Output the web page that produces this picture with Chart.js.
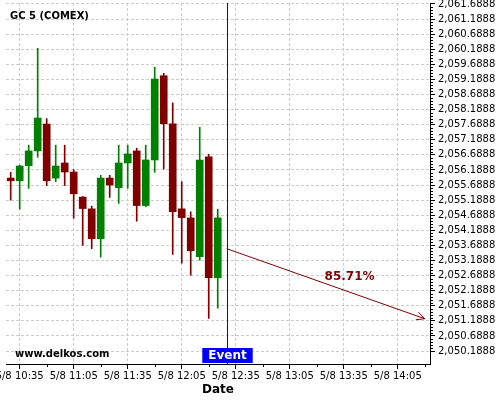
<!DOCTYPE html>
<html>
<head>
<meta charset="utf-8">
<script src="https://cdn.jsdelivr.net/npm/chart.js@4"></script>
<style>
  body { margin: 0; background: #fff; }
</style>
</head>
<body>
<canvas id="goldChart" width="500" height="400"></canvas>
<script>
// CANDLES (5 minute bars, 5/8)
const times = ['10:30', '10:35', '10:40', '10:45', '10:50', '10:55', '11:00', '11:05',
  '11:10', '11:15', '11:20', '11:25', '11:30', '11:35', '11:40', '11:45',
  '11:50', '11:55', '12:00', '12:05', '12:10', '12:15', '12:20', '12:25'];
const opens = [2055.92, 2055.83, 2056.33, 2056.82, 2057.71, 2055.92, 2056.42, 2056.12,
  2055.29, 2054.90, 2053.91, 2055.92, 2055.60, 2056.42, 2056.82, 2055.01,
  2056.52, 2059.31, 2057.72, 2054.90, 2054.60, 2053.32, 2056.62, 2052.62];
const highs = [2056.11, 2056.35, 2057.01, 2060.22, 2057.89, 2057.01, 2057.01, 2056.20,
  2055.31, 2054.99, 2056.01, 2056.01, 2057.01, 2057.01, 2056.91, 2057.01,
  2059.59, 2059.39, 2058.41, 2055.80, 2054.80, 2057.60, 2056.71, 2054.89];
const lows = [2055.19, 2054.89, 2055.58, 2056.61, 2055.67, 2055.80, 2055.67, 2054.59,
  2053.69, 2053.58, 2053.30, 2055.28, 2055.08, 2055.58, 2054.49, 2054.97,
  2056.11, 2056.22, 2053.39, 2053.10, 2052.70, 2053.20, 2051.27, 2051.61];
const closes = [2055.83, 2056.32, 2056.82, 2057.91, 2055.83, 2056.32, 2056.12, 2055.40,
  2054.91, 2053.91, 2055.92, 2055.69, 2056.42, 2056.72, 2055.01, 2056.52,
  2059.20, 2057.72, 2054.81, 2054.61, 2053.51, 2056.52, 2052.62, 2054.60];

// FORECAST ARROW
const forecastTimes = ['12:30', '14:20'];
const forecastValues = [2053.58, 2051.26];
const eventTime = '12:30';
const probability = '85.71%';

// AXES
const xTickLabels = ['10:35', '11:05', '11:35', '12:05', '12:35', '13:05', '13:35', '14:05'];
const yTicks = [2050.1888, 2050.6888, 2051.1888, 2051.6888, 2052.1888, 2052.6888,
  2053.1888, 2053.6888, 2054.1888, 2054.6888, 2055.1888, 2055.6888, 2056.1888,
  2056.6888, 2057.1888, 2057.6888, 2058.1888, 2058.6888, 2059.1888, 2059.6888,
  2060.1888, 2060.6888, 2061.1888, 2061.6888];

const GREEN = '#008000';
const RED = '#800000';
const FONT = 'DejaVu Sans';

const toMin = t => { const [h, m] = t.split(':').map(Number); return h * 60 + m; };
const fmt = v => { const h = Math.floor(v / 60), m = Math.round(v % 60); return h + ':' + String(m).padStart(2, '0'); };

const candleColors = opens.map((o, i) => closes[i] >= o ? GREEN : RED);

const decorations = {
  id: 'decorations',
  afterDraw(chart) {
    const { ctx, chartArea: a, scales: { x, y } } = chart;
    ctx.save();

    // minor ticks
    ctx.strokeStyle = '#000';
    ctx.lineWidth = 1;
    ctx.beginPath();
    xTickLabels.forEach(t => {
      const px = Math.round(x.getPixelForValue(toMin(t) + 15)) + 0.5;
      if (px < a.right) { ctx.moveTo(px, a.bottom); ctx.lineTo(px, a.bottom + 3); }
    });
    yTicks.forEach(v => {
      for (let k = 1; k < 5; k++) {
        const py = Math.round(y.getPixelForValue(v + k * 0.1)) + 0.5;
        if (py > a.top) { ctx.moveTo(a.right, py); ctx.lineTo(a.right + 3, py); }
      }
    });
    ctx.stroke();

    // event line
    const ex = Math.round(x.getPixelForValue(toMin(eventTime))) + 0.5;
    ctx.strokeStyle = '#0000ff';
    ctx.beginPath();
    ctx.moveTo(ex, a.top);
    ctx.lineTo(ex, a.bottom);
    ctx.stroke();

    // event label
    ctx.font = 'bold 12px ' + FONT;
    const w = ctx.measureText('Event').width + 12;
    ctx.fillStyle = '#0000ff';
    ctx.fillRect(ex - w / 2, a.bottom - 16, w, 15);
    ctx.fillStyle = '#fff';
    ctx.textAlign = 'center';
    ctx.textBaseline = 'middle';
    ctx.fillText('Event', ex, a.bottom - 8);

    // arrow head
    const x1 = x.getPixelForValue(toMin(forecastTimes[0])), y1 = y.getPixelForValue(forecastValues[0]);
    const x2 = x.getPixelForValue(toMin(forecastTimes[1])), y2 = y.getPixelForValue(forecastValues[1]);
    const ang = Math.atan2(y2 - y1, x2 - x1);
    ctx.strokeStyle = RED;
    ctx.beginPath();
    ctx.moveTo(x2 - 9 * Math.cos(ang - 0.45), y2 - 9 * Math.sin(ang - 0.45));
    ctx.lineTo(x2, y2);
    ctx.lineTo(x2 - 9 * Math.cos(ang + 0.45), y2 - 9 * Math.sin(ang + 0.45));
    ctx.stroke();

    // probability
    ctx.fillStyle = RED;
    ctx.fillText(probability, x1 + 0.62 * (x2 - x1), y1 + 0.62 * (y2 - y1) - 15);

    // title + watermark
    ctx.fillStyle = '#000';
    ctx.textAlign = 'left';
    ctx.font = 'bold 10px ' + FONT;
    ctx.fillText('GC 5 (COMEX)', a.left + 4, 16);
    ctx.fillText('www.delkos.com', a.left + 9, a.bottom - 10);
    ctx.restore();
  }
};

const gridOpts = { color: '#cccccc', tickColor: '#000', tickLength: 5, offset: false };
const tickFont = { family: FONT, size: 10 };

new Chart(document.getElementById('goldChart').getContext('2d'), {
  type: 'bar',
  data: {
    datasets: [{
      type: 'line',
      data: forecastTimes.map((t, i) => ({ x: toMin(t), y: forecastValues[i] })),
      borderColor: RED,
      borderWidth: 1,
      pointRadius: 0,
      order: 0
    }, {
      label: 'Body',
      data: times.map((t, i) => ({ x: toMin(t), y: [opens[i], closes[i]] })),
      backgroundColor: candleColors,
      barThickness: 7,
      order: 1
    }, {
      label: 'Wick',
      data: times.map((t, i) => ({ x: toMin(t), y: [lows[i], highs[i]] })),
      backgroundColor: candleColors,
      barThickness: 1,
      order: 2
    }]
  },
  options: {
    responsive: false,
    animation: false,
    grouped: false,
    layout: { padding: { left: 6, top: 3, right: 0, bottom: 0 } },
    plugins: { legend: { display: false }, tooltip: { enabled: false } },
    scales: {
      x: {
        type: 'linear',
        min: 627.4,
        max: 862.9,
        offset: false,
        afterBuildTicks: s => { s.ticks = xTickLabels.map(t => ({ value: toMin(t) })); },
        ticks: { callback: v => '5/8 ' + fmt(v), font: tickFont, color: '#000', padding: 1, maxRotation: 0, autoSkip: false },
        grid: gridOpts,
        border: { color: '#000', dash: [3, 2] },
        title: { display: true, text: 'Date', color: '#000', font: { family: FONT, size: 12, weight: 'bold' }, padding: { top: 0, bottom: 3 } },
        afterFit: s => { s.height = 36; s.paddingLeft = 0; s.paddingRight = 0; }
      },
      y: {
        position: 'right',
        min: 2049.76,
        max: 2061.72,
        afterBuildTicks: s => { s.ticks = yTicks.map(v => ({ value: v })); },
        ticks: {
          callback: v => v.toLocaleString('en-US', { minimumFractionDigits: 4, maximumFractionDigits: 4 }),
          font: tickFont, color: '#000', padding: 3, autoSkip: false
        },
        grid: gridOpts,
        border: { color: '#000', dash: [3, 2] },
        afterFit: s => { s.width = 70; s.paddingTop = 0; s.paddingBottom = 0; }
      }
    }
  },
  plugins: [decorations]
});
</script>
</body>
</html>
